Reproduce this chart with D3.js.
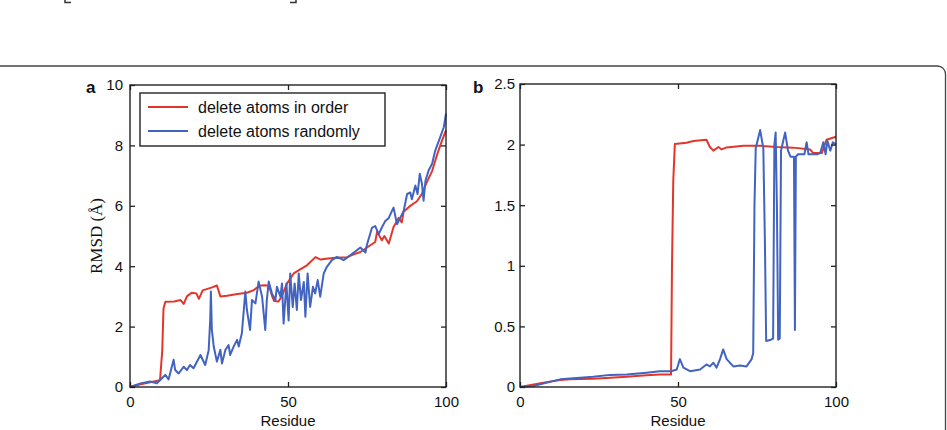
<!DOCTYPE html>
<html>
<head>
<meta charset="utf-8">
<script src="https://cdnjs.cloudflare.com/ajax/libs/d3/7.8.5/d3.min.js"></script>
<style>
  html, body { margin: 0; padding: 0; background: #fff; }
  svg { display: block; }
  .tick text { font-family: "Liberation Sans", Arial, sans-serif; font-size: 15px; fill: #111; }
</style>
</head>
<body>
<svg id="chart" width="947" height="430"></svg>
<script>
// ---------------- DATA ----------------
const seriesNames = ["delete atoms in order", "delete atoms randomly"];
const xTicks = [0, 50, 100];
const yTicksA = [0, 2, 4, 6, 8, 10];
const yTicksB = [0, 0.5, 1, 1.5, 2, 2.5];
const yTickLabelsB = ["0", "0.5", "1", "1.5", "2", "2.5"];

// Panel a – delete atoms in order (red)
const aOrderX = [0, 3, 6, 9.5, 10.2, 10.6, 11.2, 14, 16, 17, 18, 19.5, 21, 21.8, 23, 24.5, 26, 27.5, 28.6, 30.7, 34, 37, 39, 41, 42.5, 44, 45, 45.6, 47, 48, 49.7, 51.8, 54, 56, 58.7, 60.3, 62, 65, 68.7, 71, 72.9, 75, 77.6, 78.2, 79.7, 80.5, 81.9, 83.4, 85, 86, 86.6, 88.7, 90.8, 92.4, 94, 95.6, 97.2, 98.7, 100];
const aOrderY = [0, 0.08, 0.15, 0.22, 1.2, 2.6, 2.82, 2.83, 2.88, 2.75, 3.0, 3.12, 3.1, 2.92, 3.2, 3.25, 3.3, 3.36, 3.0, 3.02, 3.08, 3.12, 3.2, 3.35, 3.37, 3.35, 3.0, 2.85, 2.83, 3.0, 3.43, 3.76, 3.9, 4.03, 4.3, 4.22, 4.25, 4.28, 4.3, 4.4, 4.47, 4.62, 4.8, 5.14, 4.86, 5.0, 4.75, 5.3, 5.6, 5.45, 5.8, 6.0, 6.15, 6.4, 6.8, 7.15, 7.7, 8.15, 8.5];

// Panel a – delete atoms randomly (blue)
const aRandomX = [0, 3.3, 6.4, 8.5, 10.1, 11.2, 12.2, 13.8, 14.3, 15.4, 17, 18, 19, 20.1, 22.3, 23.8, 24.9, 25.4, 25.6, 25.9, 26.5, 27.5, 28.6, 29.1, 30.2, 31.2, 31.7, 32.8, 33.9, 34.4, 35.4, 36.5, 37, 38, 38.6, 39.7, 40.7, 41.8, 42.8, 43.3, 43.9, 44.9, 46, 46.5, 47.6, 48.1, 48.6, 49.5, 50.2, 50.7, 51.5, 52.1, 52.8, 53.4, 54.1, 55, 55.5, 56.2, 57, 57.9, 58.6, 59.4, 60.2, 61.3, 62.3, 63.9, 65.5, 67.6, 69.7, 71.8, 72.9, 74.5, 75, 76.6, 77.6, 78.7, 79.7, 80.8, 81.9, 82.9, 83.4, 84.5, 85.5, 86.6, 87.7, 88.7, 89.2, 90.3, 91, 91.7, 92.4, 92.9, 93.5, 94.5, 95.6, 96.6, 98.2, 99.3, 100];
const aRandomY = [0, 0.12, 0.18, 0.12, 0.29, 0.4, 0.25, 0.9, 0.56, 0.45, 0.67, 0.56, 0.73, 0.62, 1.06, 0.73, 1.22, 2.27, 3.16, 1.9, 1.34, 0.84, 1.23, 0.78, 1.23, 1.39, 1.06, 1.34, 1.56, 1.34, 1.78, 3.16, 2.55, 1.89, 2.88, 2.77, 3.49, 2.99, 1.89, 2.88, 3.49, 3.1, 2.88, 3.32, 2.99, 3.43, 2.1, 3.43, 2.2, 3.76, 2.65, 3.43, 2.55, 3.76, 2.88, 3.48, 2.33, 3.76, 2.65, 3.32, 3.1, 3.54, 2.99, 3.76, 3.98, 4.2, 4.31, 4.2, 4.36, 4.53, 4.62, 4.45, 4.72, 5.28, 5.33, 5.06, 5.28, 5.5, 5.6, 5.83, 5.94, 5.39, 5.6, 5.83, 6.39, 6.44, 6.22, 6.67, 6.39, 7.06, 6.72, 6.17, 6.83, 7.17, 7.39, 7.83, 8.28, 8.6, 9.05];

// Panel b – delete atoms in order (red)
const bOrderX = [0, 7.4, 12.7, 15.8, 23.2, 33.8, 40, 44.3, 47.8, 48.1, 48.5, 49, 52.7, 54.9, 59, 60.1, 61.2, 62.8, 63.8, 65.4, 70.7, 76, 81.2, 86.5, 91.8, 92.8, 95.5, 97, 100];
const bOrderY = [0, 0.036, 0.058, 0.063, 0.068, 0.085, 0.096, 0.104, 0.104, 1.0, 1.7, 2.005, 2.016, 2.03, 2.04, 1.98, 1.95, 1.98, 1.96, 1.977, 1.99, 1.99, 1.98, 1.975, 1.96, 1.93, 1.93, 2.04, 2.065];

// Panel b – delete atoms randomly (blue)
const bRandomX = [0, 4.2, 12.7, 23.2, 28.5, 33.8, 40, 44.3, 47.8, 49.6, 50.6, 51.7, 53.8, 57, 59, 60.1, 61.2, 62.2, 63.3, 64.3, 65.4, 67.5, 69.6, 71.7, 73.3, 73.8, 74.2, 74.6, 76, 77, 77.5, 77.9, 79.4, 80.1, 80.5, 80.9, 81.3, 81.7, 82.2, 82.6, 83.9, 84.8, 85.6, 86.7, 87, 87.3, 88, 90, 90.7, 91.3, 94, 95, 96, 96.7, 97.3, 98.2, 99, 100];
const bRandomY = [0, 0.008, 0.063, 0.085, 0.1, 0.104, 0.118, 0.13, 0.13, 0.145, 0.23, 0.16, 0.13, 0.145, 0.186, 0.17, 0.2, 0.16, 0.23, 0.31, 0.23, 0.17, 0.178, 0.17, 0.23, 0.28, 1.5, 1.97, 2.12, 1.97, 1.2, 0.38, 0.39, 0.4, 2.0, 2.1, 1.5, 0.39, 0.4, 1.95, 2.1, 1.95, 1.9, 1.9, 0.47, 1.9, 1.92, 1.92, 2.02, 1.92, 1.92, 1.93, 2.02, 1.92, 2.03, 1.95, 2.02, 2.0];

// ---------------- DRAW ----------------
const RED = "#e3362b";
const BLUE = "#4264c0";
const FONT = '"Liberation Sans", Arial, sans-serif';
const svg = d3.select("#chart");

svg.append("rect")
  .attr("x", -20).attr("y", 66).attr("width", 965.5).attr("height", 420)
  .attr("rx", 8).attr("fill", "none").attr("stroke", "#444").attr("stroke-width", 1.3);
svg.append("path").attr("d", "M65,0V2.5H71").attr("fill", "none").attr("stroke", "#333").attr("stroke-width", 1.5);
svg.append("path").attr("d", "M296,0V2.5H290").attr("fill", "none").attr("stroke", "#333").attr("stroke-width", 1.5);

function panel(cfg) {
  const x = d3.scaleLinear().domain([0, 100]).range([cfg.left, cfg.right]);
  const y = d3.scaleLinear().domain(cfg.yDomain).range([cfg.bottom, cfg.top]);
  const g = svg.append("g");

  const line = d3.line().x(d => x(d[0])).y(d => y(d[1]));
  cfg.series.forEach(s => {
    g.append("path")
      .datum(d3.zip(s.x, s.y))
      .attr("d", line)
      .attr("fill", "none")
      .attr("stroke", s.color)
      .attr("stroke-width", 2)
      .attr("stroke-linejoin", "round");
  });

  const bx = g.append("g").attr("transform", `translate(0,${cfg.bottom})`)
    .call(d3.axisBottom(x).tickValues(xTicks).tickSizeInner(-5).tickSizeOuter(0).tickPadding(9.5));
  const tx = g.append("g").attr("transform", `translate(0,${cfg.top})`)
    .call(d3.axisTop(x).tickValues(xTicks).tickSizeInner(-5).tickSizeOuter(0).tickFormat(""));
  const ly = g.append("g").attr("transform", `translate(${cfg.left},0)`)
    .call(d3.axisLeft(y).tickValues(cfg.yTicks).tickSizeInner(-5).tickSizeOuter(0)
      .tickPadding(cfg.yPad).tickFormat((d, i) => cfg.yLabels[i]));
  const ry = g.append("g").attr("transform", `translate(${cfg.right},0)`)
    .call(d3.axisRight(y).tickValues(cfg.yTicks).tickSizeInner(-5).tickSizeOuter(0).tickFormat(""));
  [bx, tx, ly, ry].forEach(a => {
    a.select(".domain").remove();
    a.selectAll(".tick line").attr("stroke", "#222").attr("stroke-width", 1.3);
  });

  g.append("rect")
    .attr("x", cfg.left).attr("y", cfg.top)
    .attr("width", cfg.right - cfg.left).attr("height", cfg.bottom - cfg.top)
    .attr("fill", "none").attr("stroke", "#222").attr("stroke-width", 1.4);

  g.append("text").attr("x", cfg.letterX).attr("y", 93)
    .attr("font-family", FONT).attr("font-weight", "bold").attr("font-size", 17)
    .attr("fill", "#111").text(cfg.letter);

  g.append("text").attr("x", (cfg.left + cfg.right) / 2).attr("y", 425.5)
    .attr("text-anchor", "middle").attr("font-family", FONT).attr("font-size", 15)
    .attr("fill", "#111").text("Residue");

  return { x, y, g };
}

panel({
  left: 130, right: 446, top: 85, bottom: 387,
  yDomain: [0, 10], yTicks: yTicksA, yLabels: yTicksA.map(String), yPad: 7,
  letter: "a", letterX: 86,
  series: [
    { x: aOrderX, y: aOrderY, color: RED },
    { x: aRandomX, y: aRandomY, color: BLUE }
  ]
});

panel({
  left: 520, right: 836, top: 84, bottom: 387,
  yDomain: [0, 2.5], yTicks: yTicksB, yLabels: yTickLabelsB, yPad: 5,
  letter: "b", letterX: 473,
  series: [
    { x: bOrderX, y: bOrderY, color: RED },
    { x: bRandomX, y: bRandomY, color: BLUE }
  ]
});

svg.append("text")
  .attr("transform", "translate(101.5,236) rotate(-90)")
  .attr("text-anchor", "middle")
  .attr("font-family", '"Liberation Serif", "DejaVu Serif", serif')
  .attr("font-size", 17).attr("fill", "#111")
  .text("RMSD (Å)");

const lg = svg.append("g");
lg.append("rect").attr("x", 140).attr("y", 93).attr("width", 245).attr("height", 53)
  .attr("fill", "#fff").attr("stroke", "#222").attr("stroke-width", 1.4);
[RED, BLUE].forEach((c, i) => {
  const yy = 107 + i * 24;
  lg.append("line").attr("x1", 148).attr("x2", 188).attr("y1", yy).attr("y2", yy)
    .attr("stroke", c).attr("stroke-width", 2);
  lg.append("text").attr("x", 198).attr("y", yy + 5.5)
    .attr("font-family", FONT).attr("font-size", 16).attr("fill", "#111")
    .text(seriesNames[i]);
});
</script>
</body>
</html>
